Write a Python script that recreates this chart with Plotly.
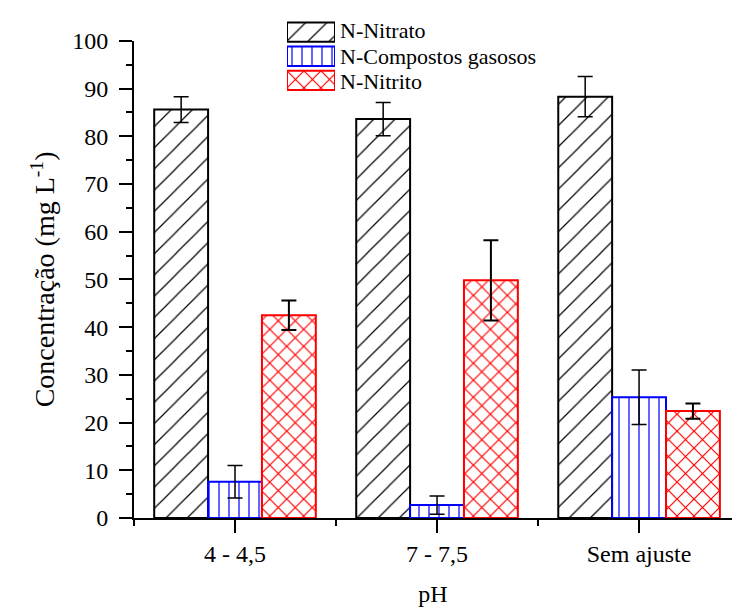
import plotly.graph_objects as go

# ---- data ----
categories = ["4 - 4,5", "7 - 7,5", "Sem ajuste"]
series_names = ["N-Nitrato", "N-Compostos gasosos", "N-Nitrito"]
nitrato = [85.6, 83.6, 88.3]
nitrato_err = [2.7, 3.5, 4.2]
gasosos = [7.6, 2.7, 25.3]
gasosos_err = [3.4, 1.9, 5.7]
nitrito = [42.5, 49.8, 22.4]
nitrito_err = [3.1, 8.4, 1.6]
y_ticks = [0, 10, 20, 30, 40, 50, 60, 70, 80, 90, 100]

FONT = "Liberation Serif, Times New Roman, serif"
x_pos = list(range(len(categories)))

styles = [
    dict(color="black", shape="/", size=15, solidity=0.08),
    dict(color="#0000ff", shape="|", size=10, solidity=0.12),
    dict(color="#ff0000", shape="x", size=12, solidity=0.19),
]
values = [nitrato, gasosos, nitrito]
errors = [nitrato_err, gasosos_err, nitrito_err]
err_thick = [1.5, 1.5, 2]

fig = go.Figure()
for name, vals, errs, st, th in zip(series_names, values, errors, styles, err_thick):
    fig.add_trace(go.Bar(
        x=x_pos, y=vals, name=name, showlegend=False,
        marker=dict(
            color="white",
            line=dict(color=st["color"], width=2),
            pattern=dict(shape=st["shape"], fgcolor=st["color"], bgcolor="white",
                         size=st["size"], solidity=st["solidity"], fillmode="replace"),
        ),
        error_y=dict(type="data", array=errs, visible=True, color="black",
                     thickness=th, width=7.5),
        xaxis="x", yaxis="y",
    ))

# custom legend drawn as bars on hidden axes
fig.add_trace(go.Bar(
    x=[1] * len(series_names), y=series_names, orientation="h", showlegend=False,
    marker=dict(
        color="white",
        line=dict(color=[s["color"] for s in styles], width=2),
        pattern=dict(shape=[s["shape"] for s in styles],
                     fgcolor=[s["color"] for s in styles], bgcolor="white",
                     size=[s["size"] for s in styles],
                     solidity=[s["solidity"] for s in styles], fillmode="replace"),
    ),
    xaxis="x2", yaxis="y2", hoverinfo="skip",
))

W, H = 732, 607
ml, mr, mt, mb = 134, 0, 10, 89
ph = H - mt - mb
pw = W - ml - mr
y_top_frac = 480 / ph

def px_to_xp(px):
    return (px - ml) / pw

def py_to_yp(py):
    return (H - mb - py) / ph

leg_centers = [28, 53.5, 78.5]
for name, cy in zip(series_names, leg_centers):
    fig.add_annotation(x=px_to_xp(338), y=py_to_yp(cy), xref="paper", yref="paper",
                       text=name, showarrow=False, xanchor="left", yanchor="middle",
                       font=dict(family=FONT, size=22, color="black"))

fig.update_layout(
    width=W, height=H,
    margin=dict(l=ml, r=mr, t=mt, b=mb),
    paper_bgcolor="white", plot_bgcolor="white",
    barmode="group", bargap=0.2, bargroupgap=0,
    showlegend=False,
    font=dict(family=FONT, size=24, color="black"),
    xaxis=dict(
        domain=[0, 1], anchor="y",
        range=[-0.5, 2.46],
        tickmode="array", tickvals=x_pos, ticktext=categories,
        ticks="outside", ticklen=13, tickwidth=2, tickcolor="black",
        showline=True, linewidth=2, linecolor="black",
        showgrid=False, zeroline=False,
        minor=dict(tickmode="array", tickvals=[p - 0.5 for p in x_pos],
                   ticks="outside", ticklen=6, tickwidth=2, tickcolor="black"),
        tickfont=dict(family=FONT, size=24),
        title=dict(text="pH", font=dict(family=FONT, size=24), standoff=22),
    ),
    yaxis=dict(
        domain=[0, y_top_frac], anchor="x",
        range=[0, 100],
        tickmode="array", tickvals=y_ticks,
        ticks="outside", ticklen=13, tickwidth=2, tickcolor="black",
        showline=True, linewidth=2, linecolor="black",
        showgrid=False, zeroline=False,
        minor=dict(dtick=5, tick0=0, ticks="outside", ticklen=6, tickwidth=2,
                   tickcolor="black"),
        tickfont=dict(family=FONT, size=24),
        ticklabelstandoff=6,
        title=dict(text="Concentração (mg L<sup>-1</sup>)",
                   font=dict(family=FONT, size=28), standoff=9),
    ),
    xaxis2=dict(domain=[px_to_xp(287), px_to_xp(335)], anchor="y2",
                range=[0, 1], visible=False, fixedrange=True),
    yaxis2=dict(domain=[py_to_yp(90), py_to_yp(17)], anchor="x2",
                type="category", autorange="reversed", visible=False, fixedrange=True),
)

fig.write_html("out.html",
               config={"displayModeBar": False},
               post_script="document.body.style.margin='0';document.body.style.padding='0';")
